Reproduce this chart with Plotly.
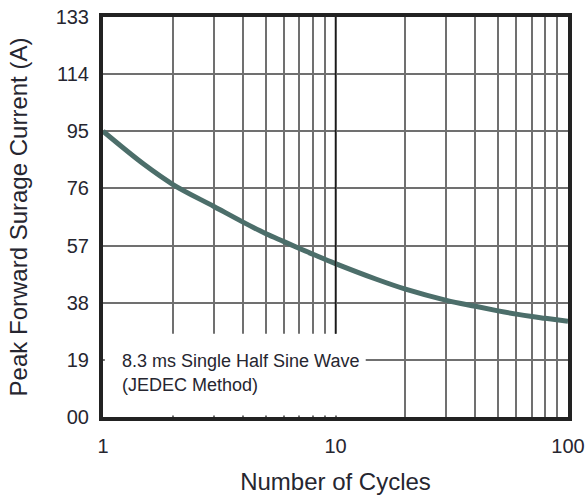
import plotly.graph_objects as go

# Data
cycles = [1, 1.5, 2, 3, 4, 5, 6, 7, 8, 10, 15, 20, 30, 40, 50, 60, 70, 80, 100]
current = [95, 84.0, 77.3, 70.0, 64.8, 61.0, 58.3, 56.0, 54.1, 51.0, 45.8, 42.5, 38.8, 36.8, 35.3, 34.2, 33.4, 32.8, 31.8]

x_grid = [1, 2, 3, 4, 5, 6, 7, 8, 9, 10, 20, 30, 40, 50, 60, 70, 80, 90, 100]
x_labels = ["1", "", "", "", "", "", "", "", "", "10", "", "", "", "", "", "", "", "", "100"]
y_ticks = [0, 19, 38, 57, 76, 95, 114, 133]
y_labels = ["00", "19", "38", "57", "76", "95", "114", "133"]

note_line1 = "8.3 ms Single Half Sine Wave"
note_line2 = "(JEDEC Method)"

FONT = "Liberation Sans, Arial, sans-serif"
TXT = "#262630"

fig = go.Figure()
fig.add_trace(go.Scatter(
    x=cycles, y=current, mode="lines",
    line=dict(color="#4c6e6a", width=5, shape="spline", smoothing=1.0),
    hoverinfo="skip", showlegend=False,
))

fig.update_layout(
    width=585, height=495,
    margin=dict(l=103, r=17, t=17, b=78),
    paper_bgcolor="white", plot_bgcolor="white",
    font=dict(family=FONT, color=TXT),
    xaxis=dict(
        type="log", range=[0, 2], automargin=False,
        tickvals=x_grid, ticktext=x_labels,
        showgrid=True, gridcolor="#707070", gridwidth=1.5,
        showline=True, linecolor="#222222", linewidth=4, mirror=True,
        ticks="", tickfont=dict(size=20, color=TXT), ticklabelstandoff=8,
        zeroline=False,
        title=dict(text="Number of Cycles", font=dict(size=24, color=TXT), standoff=22),
    ),
    yaxis=dict(
        range=[0, 133], automargin=False,
        tickvals=y_ticks, ticktext=y_labels,
        showgrid=True, gridcolor="#707070", gridwidth=1.5,
        showline=True, linecolor="#222222", linewidth=4, mirror=True,
        ticks="", tickfont=dict(size=20, color=TXT), ticklabelstandoff=6,
        zeroline=False,
        title=dict(text="Peak Forward Surage Current (A)", font=dict(size=24, color=TXT), standoff=22),
    ),
)

# white label area covering the grid in the lower-left corner
fig.add_shape(type="rect", xref="paper", yref="paper",
              x0=0.004, x1=0.565, y0=0.004, y1=0.208,
              fillcolor="white", line=dict(width=0), layer="above")
# darker decade line at 10
fig.add_shape(type="line", xref="paper", yref="paper",
              x0=0.5, x1=0.5, y0=0.208, y1=1,
              line=dict(color="#1a1a1a", width=1.5), layer="above")

fig.add_annotation(text=note_line1, xref="paper", yref="paper", x=0.036, y=0.140,
                   xanchor="left", yanchor="middle", showarrow=False,
                   font=dict(size=18, color=TXT, family=FONT))
fig.add_annotation(text=note_line2, xref="paper", yref="paper", x=0.036, y=0.080,
                   xanchor="left", yanchor="middle", showarrow=False,
                   font=dict(size=18, color=TXT, family=FONT))

fig.write_html("out.html")
